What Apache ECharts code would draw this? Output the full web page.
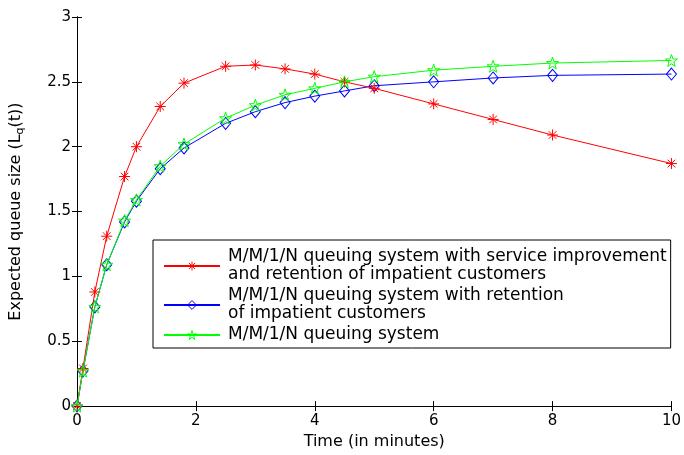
<!DOCTYPE html>
<html>
<head>
<meta charset="utf-8">
<script src="https://cdn.jsdelivr.net/npm/echarts@6/dist/echarts.min.js"></script>
<style>
  html, body { margin: 0; padding: 0; background: #fff; }
  #chart { width: 684px; height: 455px; }
</style>
</head>
<body>
<div id="chart"></div>
<script>
// time points (minutes)
const times = [0, 0.1, 0.3, 0.5, 0.8, 1, 1.4, 1.8, 2.5, 3, 3.5, 4, 4.5, 5, 6, 7, 8, 10];

// service improvement + retention
const improved = [0, 0.29, 0.88, 1.31, 1.77, 2.0, 2.31, 2.49, 2.62, 2.63, 2.60, 2.56, 2.50, 2.45, 2.33, 2.21, 2.09, 1.87];
// retention only
const retention = [0, 0.27, 0.765, 1.09, 1.42, 1.58, 1.83, 1.99, 2.18, 2.27, 2.34, 2.39, 2.43, 2.47, 2.50, 2.53, 2.55, 2.56];
// plain M/M/1/N
const plain = [0, 0.27, 0.765, 1.09, 1.43, 1.59, 1.85, 2.02, 2.22, 2.32, 2.40, 2.45, 2.50, 2.54, 2.59, 2.62, 2.645, 2.665];

const names = [
  "M/M/1/N queuing system with service improvement\nand retention of impatient customers",
  "M/M/1/N queuing system with retention\nof impatient customers",
  "M/M/1/N queuing system"
];

const FONT = "DejaVu Sans";

const asterisk = "path://M0,-10L0,10M-10,0L10,0M-7,-7L7,7M-7,7L7,-7";
const diamond = "path://M0,-10L8,0L0,10L-8,0Z";
const star = "path://M0,-10L2.35,-3.24L9.51,-3.09L3.8,1.24L5.88,8.09L0,4L-5.88,8.09L-3.8,1.24L-9.51,-3.09L-2.35,-3.24Z";

const pairs = (ys) => times.map((t, i) => [t, ys[i]]);

const chart = echarts.init(document.getElementById("chart"));

const baseAxis = {
  axisLine: { show: true, lineStyle: { color: "#000", width: 1 } },
  axisTick: { show: true, inside: true, length: 5, lineStyle: { color: "#000" } },
  splitLine: { show: false },
  axisLabel: { color: "#000", fontFamily: FONT, fontSize: 15 }
};

chart.setOption({
  animation: false,
  backgroundColor: "#fff",
  grid: { left: 77, right: 6, top: 17, bottom: 47 },
  xAxis: [
    Object.assign({}, baseAxis, {
      type: "value", min: 0, max: 10, interval: 2, position: "bottom",
      name: "Time (in minutes)", nameLocation: "middle", nameGap: 25,
      nameTextStyle: { color: "#000", fontFamily: FONT, fontSize: 16 },
      axisLabel: Object.assign({}, baseAxis.axisLabel, { margin: 8 })
    }),
    Object.assign({}, baseAxis, {
      type: "value", min: 0, max: 10, interval: 2, position: "top",
      axisLabel: { show: false }
    })
  ],
  yAxis: [
    Object.assign({}, baseAxis, {
      type: "value", min: 0, max: 3, interval: 0.5, position: "left",
      name: "Expected queue size (L{sub|q}(t))", nameLocation: "middle", nameGap: 51,
      nameTextStyle: {
        color: "#000", fontFamily: FONT, fontSize: 16,
        rich: { sub: { fontSize: 11, fontFamily: FONT, color: "#000", padding: [9, 0, 0, 0] } }
      },
      axisLabel: Object.assign({}, baseAxis.axisLabel, { margin: 6 })
    }),
    Object.assign({}, baseAxis, {
      type: "value", min: 0, max: 3, interval: 0.5, position: "right",
      axisLabel: { show: false }
    })
  ],
  legend: {
    orient: "vertical",
    left: 153, top: 240,
    borderColor: "#000", borderWidth: 1,
    padding: [8, 4, 4, 10],
    itemGap: 3,
    itemWidth: 56, itemHeight: 11,
    backgroundColor: "#fff",
    textStyle: { color: "#000", fontFamily: FONT, fontSize: 17, lineHeight: 18, padding: [0, 0, 0, 3] },
    data: [
      { name: names[0], itemStyle: { color: "#ff0000", borderColor: "#ff0000", borderWidth: 1 } },
      { name: names[1], itemStyle: { color: "rgba(0,0,0,0)", borderColor: "#0000ff", borderWidth: 1 } },
      { name: names[2], itemStyle: { color: "rgba(0,0,0,0)", borderColor: "#00ff00", borderWidth: 1 } }
    ]
  },
  series: [
    {
      name: names[0], type: "line", data: pairs(improved),
      color: "#ff0000",
      symbol: asterisk, symbolSize: 11,
      lineStyle: { color: "#ff0000", width: 1 },
      itemStyle: { color: "#ff0000", borderColor: "#ff0000", borderWidth: 1 },
      z: 3
    },
    {
      name: names[1], type: "line", data: pairs(retention),
      color: "#0000ff",
      symbol: diamond, symbolSize: [10, 12],
      lineStyle: { color: "#0000ff", width: 1 },
      itemStyle: { color: "rgba(0,0,0,0)", borderColor: "#0000ff", borderWidth: 1 },
      z: 2
    },
    {
      name: names[2], type: "line", data: pairs(plain),
      color: "#00ff00",
      symbol: star, symbolSize: 12,
      lineStyle: { color: "#00ff00", width: 1 },
      itemStyle: { color: "rgba(0,0,0,0)", borderColor: "#00ff00", borderWidth: 1 },
      z: 4
    }
  ]
});
</script>
</body>
</html>
